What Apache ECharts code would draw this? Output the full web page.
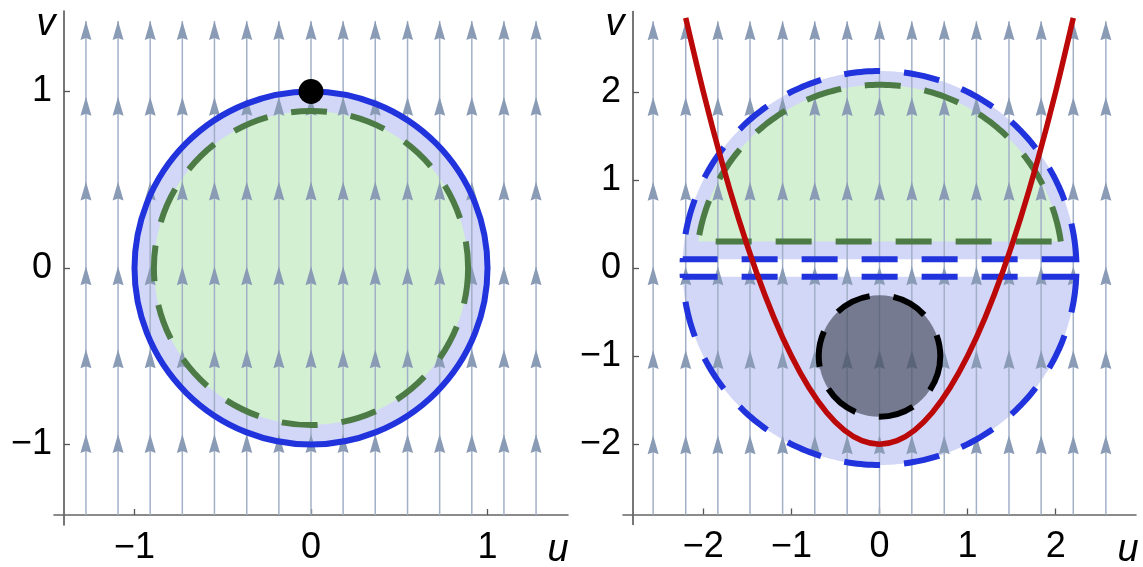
<!DOCTYPE html>
<html>
<head>
<meta charset="utf-8">
<script src="https://cdn.jsdelivr.net/npm/echarts@6/dist/echarts.min.js"></script>
<style>
  html, body { margin: 0; background: #fff; }
  #chart { width: 1143px; height: 567px; }
</style>
</head>
<body>
<div id="chart"></div>
<script>
// ---- data ----
const ticksL = [-1, 0, 1];
const ticksR = [-2, -1, 0, 1, 2];

// stream columns (u) and arrow tip rows (v)
const colsL = [-1.275, -1.093, -0.911, -0.729, -0.547, -0.364, -0.182, 0, 0.182, 0.364, 0.547, 0.729, 0.911, 1.093, 1.275];
const tipsL = [-0.94, -0.46, 0.01, 0.49, 0.97, 1.4];
const spanL = [-1.4, 1.4];
const colsR = [-2.57, -2.2, -1.835, -1.47, -1.1, -0.735, -0.367, 0, 0.367, 0.735, 1.1, 1.47, 1.835, 2.2, 2.57];
const tipsR = [-1.9, -0.93, 0.02, 0.98, 1.94, 2.8];
const spanR = [-2.8, 2.8];

// discs: [u centre, v centre, radius]
const blueDiskL = [0, 0, 1];
const greenDiskL = [0, 0, 0.89];
const dotL = [[0, 1]];

// cut discs: [u centre, v centre, radius, cut, side]
const blueUpperR = [0, 0, 2.236, 0.1, 1];
const blueLowerR = [0, 0, 2.236, 0.1, -1];
const greenUpperR = [0, 0, 2.08, 0.3, 1];
const grayDiskR = [0, -1, 0.69];

// red curve
const curveU = [-2.2, -2.0, -1.8, -1.6, -1.4, -1.2, -1.0, -0.8, -0.6, -0.4, -0.2, 0, 0.2, 0.4, 0.6, 0.8, 1.0, 1.2, 1.4, 1.6, 1.8, 2.0, 2.2];
const curveV = [2.84, 2.0, 1.24, 0.56, -0.04, -0.56, -1.0, -1.36, -1.64, -1.84, -1.96, -2.0, -1.96, -1.84, -1.64, -1.36, -1.0, -0.56, -0.04, 0.56, 1.24, 2.0, 2.84];

// ---- styles ----
const arrowLine = '#a2b0c7';
const arrowHead = '#8a9bb6';
const blue = '#2033dc';
const blueFill = '#d2d6f7';
const greenFill = '#d3f0d2';
const green = '#4c7b46';
const red = '#bb0808';
const font = '"Liberation Sans", Arial, sans-serif';
const dash = [36, 24];

const minus = v => (v < 0 ? '\u2212' + Math.abs(v) : String(v));

function diskSeries(idx, disk, style, z) {
  return {
    type: 'custom', xAxisIndex: idx, yAxisIndex: idx, z, silent: true, clip: false,
    data: [disk],
    renderItem: (params, api) => {
      const c = api.coord([api.value(0), api.value(1)]);
      const r = api.size([api.value(2), 0])[0];
      return { type: 'circle', shape: { cx: c[0], cy: c[1], r }, style };
    }
  };
}

function cutSeries(idx, seg, style, z) {
  return {
    type: 'custom', xAxisIndex: idx, yAxisIndex: idx, z, silent: true, clip: false,
    data: [seg],
    renderItem: (params, api) => {
      const cx = api.value(0), cy = api.value(1), R = api.value(2), cut = api.value(3), side = api.value(4);
      const a0 = Math.asin(cut / R);
      const pts = [];
      for (let i = 0; i <= 160; i++) {
        const t = a0 + (Math.PI - 2 * a0) * i / 160;
        pts.push(api.coord([cx + R * Math.cos(t), cy + side * R * Math.sin(t)]));
      }
      return { type: 'polygon', shape: { points: pts }, style };
    }
  };
}

function streamSeries(idx, cols, span) {
  return {
    type: 'custom', xAxisIndex: idx, yAxisIndex: idx, z: 2, silent: true,
    data: cols.map(u => [u, span[0], span[1]]),
    renderItem: (params, api) => {
      const a = api.coord([api.value(0), api.value(1)]);
      const b = api.coord([api.value(0), api.value(2)]);
      return { type: 'line', shape: { x1: a[0], y1: a[1], x2: b[0], y2: b[1] }, style: { stroke: arrowLine, lineWidth: 1.5 } };
    }
  };
}

function headSeries(idx, cols, tips) {
  return {
    type: 'custom', xAxisIndex: idx, yAxisIndex: idx, z: 3, silent: true, clip: false,
    data: cols.flatMap(u => tips.map(v => [u, v])),
    renderItem: (params, api) => {
      const p = api.coord([api.value(0), api.value(1)]);
      return {
        type: 'polygon',
        shape: { points: [[p[0], p[1]], [p[0] - 5.5, p[1] + 19], [p[0], p[1] + 17], [p[0] + 5.5, p[1] + 19]] },
        style: { fill: arrowHead }
      };
    }
  };
}

function xAxisCfg(idx, lim, ticks) {
  return {
    type: 'value', gridIndex: idx, min: -lim, max: lim, position: 'bottom', offset: -10,
    axisLine: { onZero: false, lineStyle: { color: '#666', width: 1.6 } },
    axisTick: { customValues: ticks, inside: true, length: 6, lineStyle: { color: '#555', width: 1.3 } },
    axisLabel: { customValues: ticks, formatter: minus, margin: 15, fontSize: 36, color: '#000', fontFamily: font },
    splitLine: { show: false }
  };
}

function yAxisCfg(idx, lim, ticks) {
  return {
    type: 'value', gridIndex: idx, min: -lim, max: lim, position: 'left', offset: -10,
    axisLine: { onZero: false, lineStyle: { color: '#555', width: 1.6 } },
    axisTick: { customValues: ticks, inside: true, length: 6, lineStyle: { color: '#555', width: 1.3 } },
    axisLabel: { customValues: ticks, formatter: minus, margin: 12, fontSize: 36, color: '#000', fontFamily: font },
    splitLine: { show: false }
  };
}

const chart = echarts.init(document.getElementById('chart'));
chart.setOption({
  animation: false,
  backgroundColor: '#fff',
  grid: [
    { left: 54, top: 11, width: 514, height: 514 },
    { left: 623, top: 11.5, width: 513, height: 513 }
  ],
  xAxis: [xAxisCfg(0, 1.456, ticksL), xAxisCfg(1, 2.912, ticksR)],
  yAxis: [yAxisCfg(0, 1.456, ticksL), yAxisCfg(1, 2.912, ticksR)],
  graphic: [
    { type: 'text', x: 46, y: 24, style: { text: 'v', font: 'italic 38px ' + font, fill: '#000', textAlign: 'center', textVerticalAlign: 'middle' } },
    { type: 'text', x: 558, y: 550, style: { text: 'u', font: 'italic 38px ' + font, fill: '#000', textAlign: 'center', textVerticalAlign: 'middle' } },
    { type: 'text', x: 615, y: 24, style: { text: 'v', font: 'italic 38px ' + font, fill: '#000', textAlign: 'center', textVerticalAlign: 'middle' } },
    { type: 'text', x: 1128, y: 550, style: { text: 'u', font: 'italic 38px ' + font, fill: '#000', textAlign: 'center', textVerticalAlign: 'middle' } }
  ],
  series: [
    // left panel
    diskSeries(0, blueDiskL, { fill: blueFill }, 1),
    diskSeries(0, greenDiskL, { fill: greenFill }, 1),
    streamSeries(0, colsL, spanL),
    headSeries(0, colsL, tipsL),
    diskSeries(0, greenDiskL, { fill: 'none', stroke: green, lineWidth: 6, lineDash: dash }, 5),
    diskSeries(0, blueDiskL, { fill: 'none', stroke: blue, lineWidth: 6 }, 5),
    {
      type: 'scatter', xAxisIndex: 0, yAxisIndex: 0, z: 7, silent: true,
      symbolSize: 25, itemStyle: { color: '#000', opacity: 1 }, data: dotL
    },
    // right panel
    cutSeries(1, blueUpperR, { fill: blueFill }, 1),
    cutSeries(1, blueLowerR, { fill: blueFill }, 1),
    cutSeries(1, greenUpperR, { fill: greenFill }, 1),
    streamSeries(1, colsR, spanR),
    headSeries(1, colsR, tipsR),
    diskSeries(1, grayDiskR, { fill: 'rgba(62,66,82,0.62)' }, 4),
    cutSeries(1, greenUpperR, { fill: 'none', stroke: green, lineWidth: 6, lineDash: dash }, 5),
    cutSeries(1, blueUpperR, { fill: 'none', stroke: blue, lineWidth: 6, lineDash: dash }, 5),
    cutSeries(1, blueLowerR, { fill: 'none', stroke: blue, lineWidth: 6, lineDash: dash }, 5),
    diskSeries(1, grayDiskR, { fill: 'none', stroke: '#000', lineWidth: 6, lineDash: dash }, 5),
    {
      type: 'line', xAxisIndex: 1, yAxisIndex: 1, z: 6, silent: true,
      smooth: 0.3, symbol: 'none',
      lineStyle: { color: red, width: 5.5 },
      data: curveU.map((u, i) => [u, curveV[i]])
    }
  ]
});
</script>
</body>
</html>
